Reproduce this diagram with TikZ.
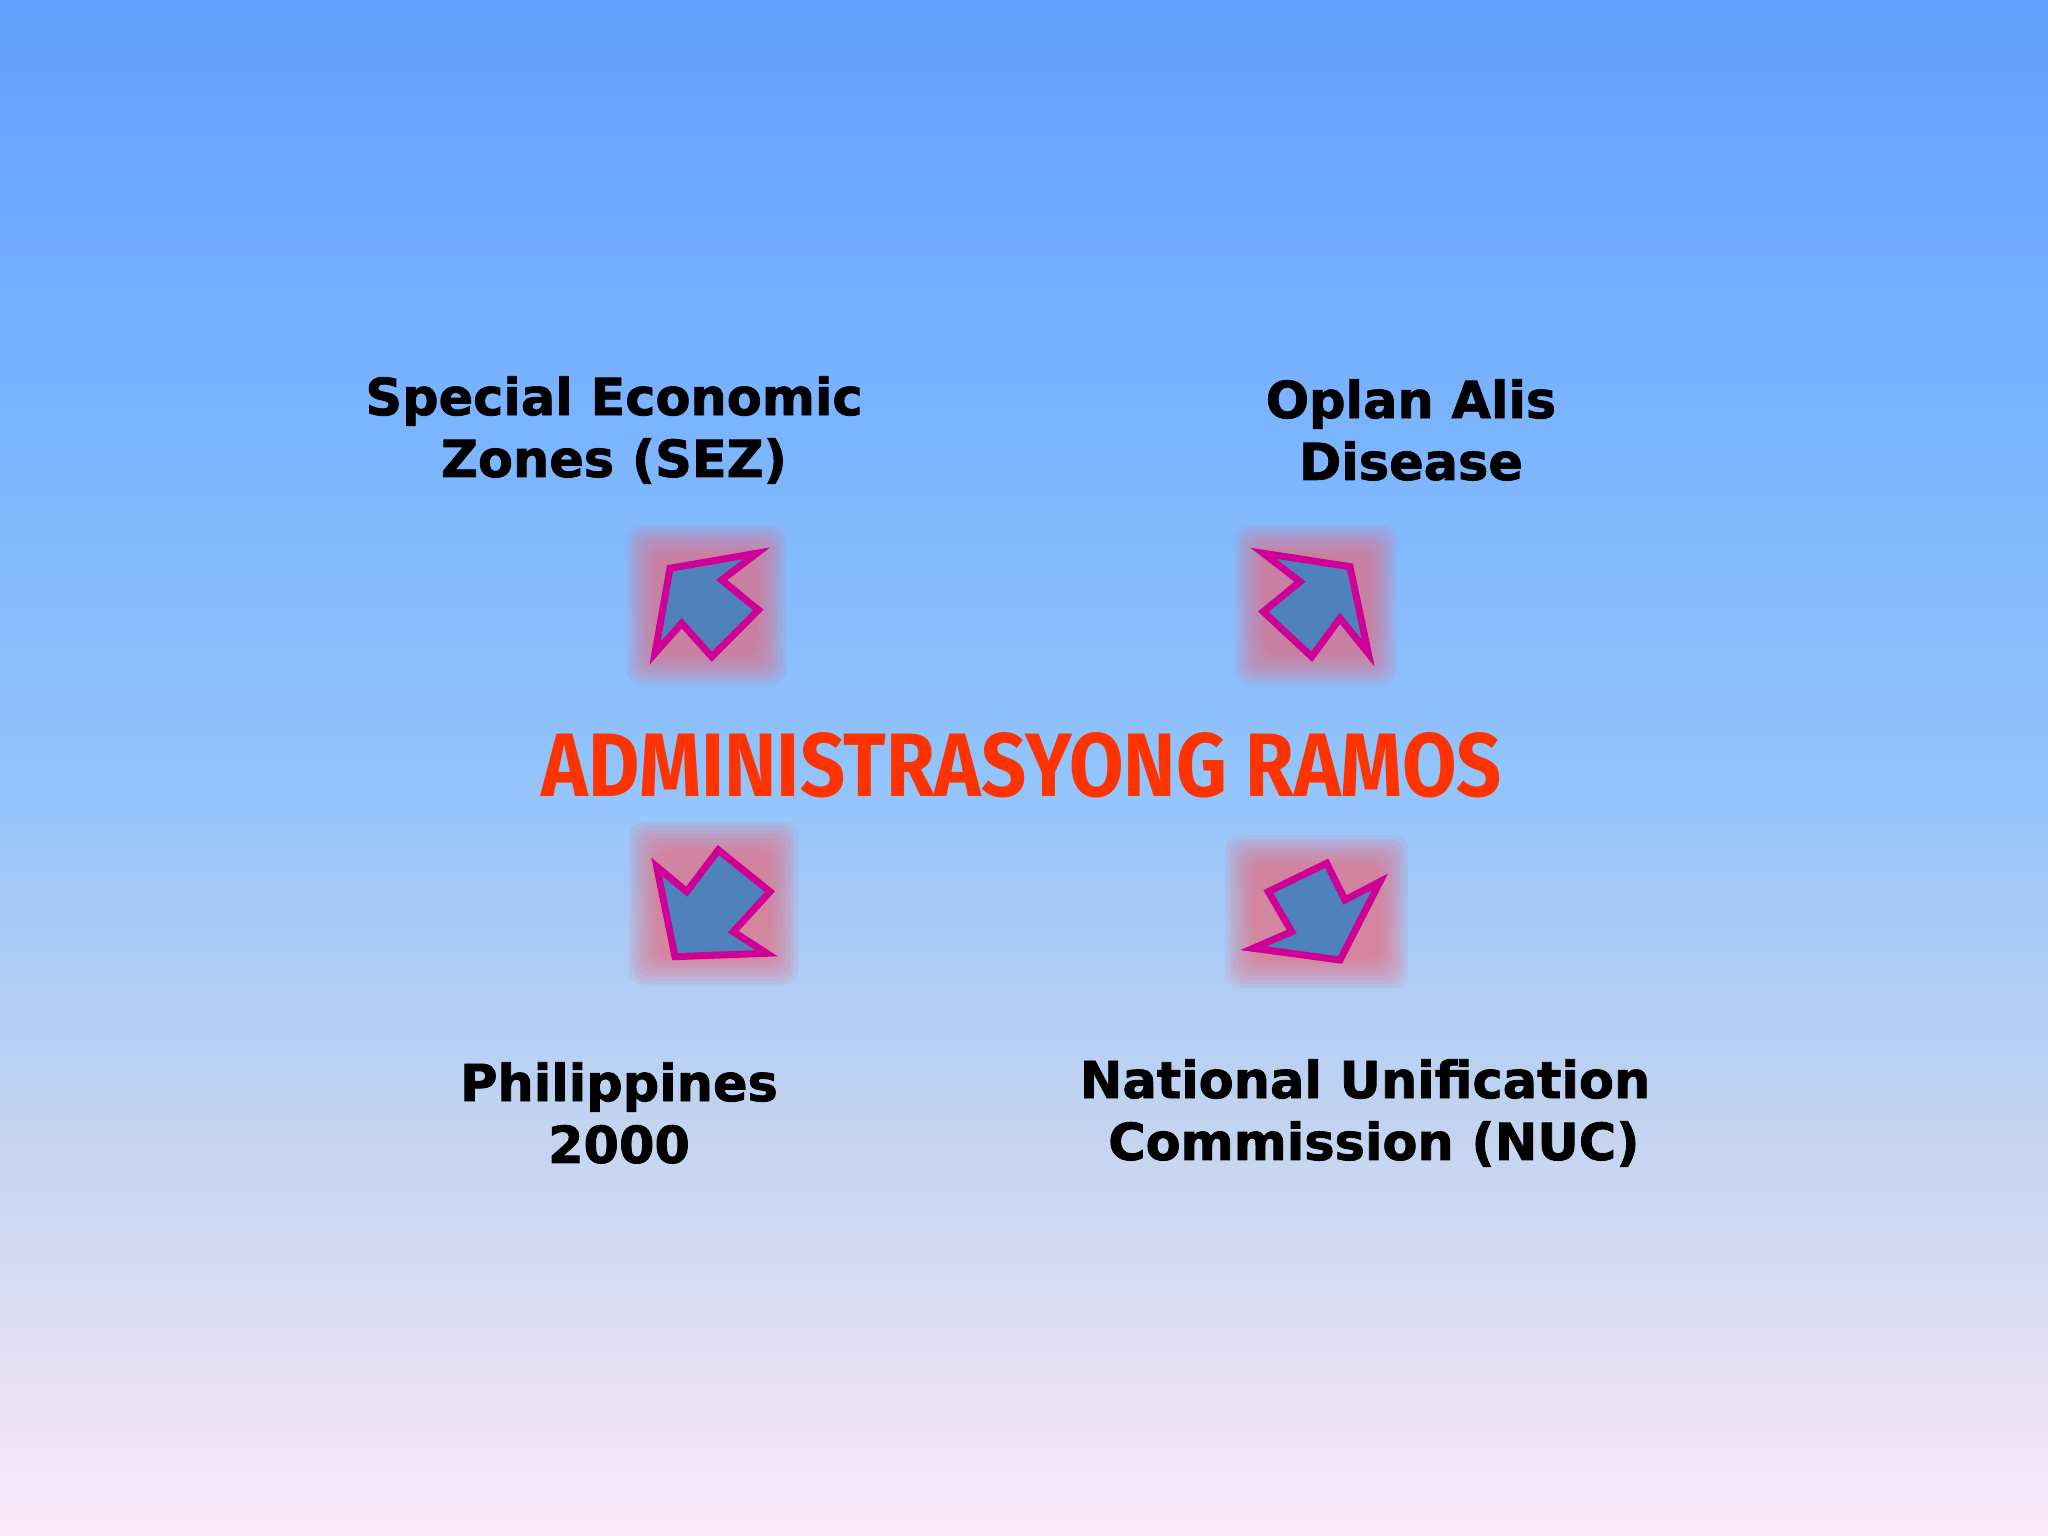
\documentclass[tikz,border=0pt]{standalone}
\usepackage{fontspec}
\setmainfont{DejaVu Sans}
\newfontfamily\labelfont{DejaVu Sans Bold}[FakeBold=1.6]
\newfontfamily\titlefont{Fira Sans}

\definecolor{bgtop}{RGB}{98,160,255}
\definecolor{bgupper}{RGB}{120,178,255}
\definecolor{bgmid}{RGB}{145,195,252}
\definecolor{bglower}{RGB}{195,212,240}
\definecolor{bgbottom}{RGB}{252,232,250}
\definecolor{arrowblue}{RGB}{79,129,189}
\definecolor{arrowpink}{RGB}{206,0,150}
\definecolor{glowred}{RGB}{240,100,115}
\definecolor{titlered}{RGB}{255,51,0}

\pgfdeclareverticalshading{slidebg}{100bp}{color(0bp)=(bgbottom); color(25bp)=(bgbottom);
  color(38.2bp)=(bglower); color(50bp)=(bgmid); color(62.6bp)=(bgupper);
  color(75bp)=(bgtop); color(100bp)=(bgtop)}

% soft square glow + outlined arrow from a list of corners
\newcommand{\glowarrow}[2]{%
  \begin{scope}[local bounding box=#1]
    \path #2 -- cycle;
  \end{scope}
  \foreach \e in {0.28,0.24,0.20,0.16,0.12,0.08,0.04,0.0}
    \fill[glow] ([shift={(-\e,-\e)}]#1.south west) rectangle ([shift={(\e,\e)}]#1.north east);
  \draw[arrowshape] #2 -- cycle;}

\begin{document}
\begin{tikzpicture}[
    label/.style={font=\labelfont\fontsize{14.5}{17.6}\selectfont,align=center,text=black},
    glow/.style={fill=glowred,opacity=0.12,rounded corners=0.14cm},
    arrowshape/.style={fill=arrowblue,draw=arrowpink,line width=0.07cm,line join=miter}]

  % the slide frame sets the picture size
  \shade[shading=slidebg] (0,0) rectangle (20.48,15.36);

  \node[text=titlered,font=\titlefont\bfseries\fontsize{26}{30}\selectfont] (title) at (10.22,7.71)
    {\resizebox{9.6cm}{0.64cm}{ADMINISTRASYONG RAMOS}};

  \node[label] (sez) at (6.14,11.06) {Special Economic\\Zones (SEZ)};
  \node[label] (alis) at (14.11,11.06) {Oplan Alis\\Disease};
  \node[label] (ph2000) at (6.19,4.23) {Philippines\\2000};
  \node[label] (nuc) at (13.65,4.23) {National Unification\\~Commission (NUC)};

  % arrows round the title
  \glowarrow{nwarrow}{(6.700,9.677) -- (7.567,9.827) -- (7.217,9.560) -- (7.583,9.260)
    -- (7.117,8.793) -- (6.817,9.127) -- (6.550,8.827)}
  \glowarrow{nearrow}{(12.633,9.827) -- (13.500,9.693) -- (13.683,8.827) -- (13.400,9.177)
    -- (13.117,8.793) -- (12.633,9.243) -- (13.000,9.543)}
  \glowarrow{swarrow}{(6.567,6.693) -- (6.867,6.443) -- (7.183,6.860) -- (7.700,6.443)
    -- (7.333,6.043) -- (7.667,5.827) -- (6.750,5.793)}
  \glowarrow{searrow}{(12.533,5.877) -- (12.917,6.043) -- (12.683,6.443) -- (13.267,6.727)
    -- (13.450,6.360) -- (13.800,6.543) -- (13.400,5.760)}
\end{tikzpicture}
\end{document}
